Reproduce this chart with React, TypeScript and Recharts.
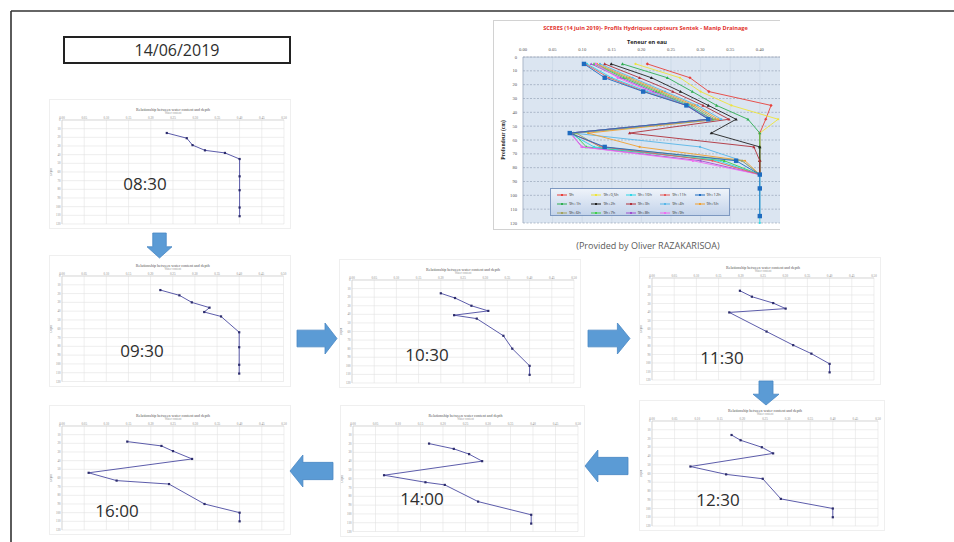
import React from "react";
import {
  ScatterChart,
  Scatter,
  XAxis,
  YAxis,
  CartesianGrid,
  Legend,
} from "recharts";

/* ---- small profiles (water content vs depth, one per hour) ---- */
const SMALL_WC_TICKS = [0, 0.05, 0.1, 0.15, 0.2, 0.25, 0.3, 0.35, 0.4, 0.45, 0.5];
const DEPTH_TICKS = [0, 10, 20, 30, 40, 50, 60, 70, 80, 90, 100, 110, 120];
const TIMES = ["08:30", "09:30", "10:30", "11:30", "12:30", "14:00", "16:00"];

const WC_0830 = [0.236, 0.281, 0.294, 0.322, 0.367, 0.4, 0.4, 0.4, 0.4, 0.4];
const DEPTH_0830 = [15, 21, 29, 35, 38, 45, 65, 81, 101, 111];
const WC_0930 = [0.222, 0.265, 0.293, 0.333, 0.321, 0.359, 0.4, 0.4, 0.4, 0.4];
const DEPTH_0930 = [16, 22, 30, 36, 41, 46, 64, 81, 101, 111];
const WC_1030 = [0.2, 0.232, 0.269, 0.307, 0.23, 0.281, 0.341, 0.361, 0.4, 0.4];
const DEPTH_1030 = [15.5, 21, 30, 36, 41, 45, 65, 80, 100, 110.5];
const WC_1130 = [0.198, 0.225, 0.273, 0.301, 0.174, 0.258, 0.318, 0.359, 0.4, 0.4];
const DEPTH_1130 = [15, 22, 29.5, 36, 40.5, 63, 79, 89, 101, 111];
const WC_1230 = [0.176, 0.196, 0.243, 0.268, 0.085, 0.164, 0.245, 0.285, 0.4, 0.4];
const DEPTH_1230 = [16, 22, 30, 37, 52, 61, 66, 89, 100, 110];
const WC_1400 = [0.169, 0.224, 0.258, 0.287, 0.069, 0.161, 0.204, 0.278, 0.396, 0.396];
const DEPTH_1400 = [20, 26, 32, 40, 56, 64, 67, 86, 101, 111];
const WC_1600 = [0.147, 0.224, 0.25, 0.293, 0.06, 0.123, 0.241, 0.321, 0.4, 0.4];
const DEPTH_1600 = [18, 23, 29, 38, 54, 63, 67, 90, 100, 110];

/* ---- big Sentek chart ---- */
const BIG_WC_TICKS = [0, 0.05, 0.1, 0.15, 0.2, 0.25, 0.3, 0.35, 0.4];
const PROBE_DEPTHS = [5, 15, 25, 35, 45, 55, 65, 75, 85];
const DEEP_DEPTHS = [5, 15, 25, 35, 45, 55, 65, 75, 85, 95, 115];
const CYAN_DEPTHS = [5, 15, 25, 35, 45, 55, 65, 75, 85, 95, 115, 120];
const LEGEND_LABELS = [
  "9h", "9h+0,5h", "9h+1h", "9h+2h", "9h+3h",
  "9h+4h", "9h+5h", "9h+6h", "9h+7h", "9h+8h",
  "9h+9h", "9h+10h", "9h+11h", "9h+12h",
];
const S_RED = [0.21, 0.282, 0.314, 0.419, 0.41, 0.4, 0.4, 0.4, 0.4];
const S_YELLOW = [0.19, 0.265, 0.3, 0.352, 0.431, 0.4, 0.4, 0.4, 0.4];
const S_GREEN = [0.168, 0.244, 0.286, 0.327, 0.38, 0.4, 0.4, 0.4, 0.4];
const S_BLACK = [0.149, 0.217, 0.266, 0.313, 0.36, 0.318, 0.4, 0.4, 0.4];
const S_DARKRED = [0.138, 0.197, 0.253, 0.304, 0.348, 0.18, 0.39, 0.4, 0.4];
const S_LIGHTBLUE = [0.13, 0.185, 0.24, 0.295, 0.335, 0.085, 0.299, 0.37, 0.4];
const S_ORANGE = [0.125, 0.18, 0.235, 0.29, 0.33, 0.11, 0.197, 0.375, 0.4];
const S_OLIVE = [0.122, 0.175, 0.23, 0.285, 0.325, 0.09, 0.13, 0.37, 0.4];
const S_LIME = [0.12, 0.17, 0.225, 0.28, 0.32, 0.085, 0.107, 0.34, 0.4];
const S_PURPLE = [0.115, 0.165, 0.22, 0.278, 0.318, 0.08, 0.1, 0.3, 0.4];
const S_PINK = [0.123, 0.16, 0.215, 0.275, 0.315, 0.08, 0.099, 0.287, 0.4];
const S_CYAN = [0.108, 0.15, 0.21, 0.28, 0.315, 0.078, 0.12, 0.33, 0.4, 0.4, 0.4, 0.4];
const S_SALMON = [0.105, 0.145, 0.205, 0.277, 0.314, 0.079, 0.135, 0.32, 0.4];
const S_BLUE = [0.103, 0.138, 0.203, 0.276, 0.313, 0.079, 0.138, 0.36, 0.4, 0.4, 0.4];

const BIG_SERIES = [
  { wc: S_RED, depth: PROBE_DEPTHS },
  { wc: S_YELLOW, depth: PROBE_DEPTHS },
  { wc: S_GREEN, depth: PROBE_DEPTHS },
  { wc: S_BLACK, depth: PROBE_DEPTHS },
  { wc: S_DARKRED, depth: PROBE_DEPTHS },
  { wc: S_LIGHTBLUE, depth: PROBE_DEPTHS },
  { wc: S_ORANGE, depth: PROBE_DEPTHS },
  { wc: S_OLIVE, depth: PROBE_DEPTHS },
  { wc: S_LIME, depth: PROBE_DEPTHS },
  { wc: S_PURPLE, depth: PROBE_DEPTHS },
  { wc: S_PINK, depth: PROBE_DEPTHS },
  { wc: S_CYAN, depth: CYAN_DEPTHS },
  { wc: S_SALMON, depth: PROBE_DEPTHS },
  { wc: S_BLUE, depth: DEEP_DEPTHS },
];

/* styling for each big-chart series */
const SERIES_STYLE = [
  { color: "#e8413b", shape: "diamond", r: 1.6 },
  { color: "#eee43a", shape: "circle", r: 1.1 },
  { color: "#2fae52", shape: "triangle", r: 1.6 },
  { color: "#222222", shape: "triangle", r: 1.6 },
  { color: "#b0303a", shape: "triangle", r: 1.6 },
  { color: "#58b6e8", shape: "circle", r: 1.1 },
  { color: "#f0a030", shape: "circle", r: 1.1 },
  { color: "#a4a35e", shape: "triangle", r: 1.4 },
  { color: "#3fd04a", shape: "triangle", r: 1.6 },
  { color: "#a050d0", shape: "triangle", r: 1.4 },
  { color: "#f06cf0", shape: "circle", r: 1.2 },
  { color: "#2fd6e6", shape: "circle", r: 1.1 },
  { color: "#e45a5a", shape: "circle", r: 1.1 },
  { color: "#1f6cc0", shape: "square", r: 2.2 },
];

const PANELS = [
  { time: TIMES[0], wc: WC_0830, depth: DEPTH_0830, box: [62, 120, 222, 104], at: [145, 183] },
  { time: TIMES[1], wc: WC_0930, depth: DEPTH_0930, box: [62, 276, 221.5, 105.5], at: [142, 350] },
  { time: TIMES[2], wc: WC_1030, depth: DEPTH_1030, box: [352, 280, 222, 103], at: [427, 354] },
  { time: TIMES[3], wc: WC_1130, depth: DEPTH_1130, box: [652, 278, 222, 102], at: [722, 357] },
  { time: TIMES[4], wc: WC_1230, depth: DEPTH_1230, box: [652, 421, 226, 105], at: [718, 499] },
  { time: TIMES[5], wc: WC_1400, depth: DEPTH_1400, box: [353, 426, 225, 105.5], at: [422, 498] },
  { time: TIMES[6], wc: WC_1600, depth: DEPTH_1600, box: [62, 426, 222, 104], at: [117, 510] },
];

const FONT = "'Open Sans', 'Liberation Sans', sans-serif";

function marker(kind: string, color: string, r: number) {
  return (p: any) => {
    const { cx, cy } = p;
    if (cx == null || cy == null) return <g />;
    if (kind === "square")
      return <rect x={cx - r} y={cy - r} width={2 * r} height={2 * r} fill={color} />;
    if (kind === "diamond")
      return <polygon points={`${cx},${cy - r} ${cx + r},${cy} ${cx},${cy + r} ${cx - r},${cy}`} fill={color} />;
    if (kind === "triangle")
      return <polygon points={`${cx},${cy - r} ${cx + r},${cy + r * 0.8} ${cx - r},${cy + r * 0.8}`} fill={color} />;
    return <circle cx={cx} cy={cy} r={r} fill={color} />;
  };
}

function Profile({ wc, depth, box, time, at }: any) {
  const [x, y, w, h] = box;
  const data = wc.map((v: number, i: number) => ({ wc: v, depth: depth[i] }));
  return (
    <>
      <div
        style={{
          position: "absolute",
          left: x - 12,
          top: y - 20,
          width: w + 18,
          height: h + 24,
          outline: "1px solid #efefef",
          background: "#fff",
        }}
      >
        <div
          style={{
            position: "absolute", left: 12, width: w, top: 8, textAlign: "center",
            fontSize: 4, lineHeight: "4px", color: "#555", fontFamily: "'Liberation Serif', serif",
          }}
        >
          Relationship between water content and depth
        </div>
        <div
          style={{
            position: "absolute", left: 12, width: w, top: 11.5, textAlign: "center",
            fontSize: 3, lineHeight: "3px", color: "#999", fontFamily: "'Liberation Serif', serif",
          }}
        >
          Water content
        </div>
        <ScatterChart width={w + 18} height={h + 24} margin={{ top: 12, right: 6, bottom: 4, left: 2 }}>
          <CartesianGrid stroke="#e2e2e2" strokeWidth={0.6} />
          <XAxis
            type="number"
            dataKey="wc"
            orientation="top"
            domain={[0, 0.5]}
            ticks={SMALL_WC_TICKS}
            interval={0}
            height={8}
            tickSize={0}
            tickMargin={1.5}
            tickFormatter={(v: number) => v.toFixed(2)}
            tick={{ fontSize: 3.2, fill: "#8a8a8a" }}
            axisLine={{ stroke: "#cfcfcf", strokeWidth: 0.6 }}
            tickLine={false}
          />
          <YAxis
            type="number"
            dataKey="depth"
            reversed
            domain={[0, 120]}
            ticks={DEPTH_TICKS}
            interval={0}
            width={10}
            tickSize={0}
            tickMargin={1.5}
            tick={{ fontSize: 3, fill: "#8a8a8a" }}
            axisLine={{ stroke: "#cfcfcf", strokeWidth: 0.6 }}
            tickLine={false}
            label={{ value: "Depth", angle: -90, position: "insideLeft", offset: -1, fontSize: 3, fill: "#888", style: { textAnchor: "middle" } }}
          />
          <Scatter
            data={data}
            fill="#2c2c6c"
            shape={marker("square", "#2c2c6c", 1.1)}
            line={{ stroke: "#4a4aa0", strokeWidth: 0.9 }}
            isAnimationActive={false}
          />
        </ScatterChart>
      </div>
      <div
        style={{
          position: "absolute", left: at[0], top: at[1], transform: "translate(-50%, -50%)",
          fontSize: 17, fontFamily: FONT, color: "#2e2e2e", whiteSpace: "nowrap",
        }}
      >
        {time}
      </div>
    </>
  );
}

function BigLegend(props: any) {
  const items = props.payload || [];
  return (
    <div
      style={{
        width: 180, height: 28, boxSizing: "border-box",
        border: "1px solid #7d98c0",
        background: "linear-gradient(180deg, #eef3fa 0%, #c3d3ea 100%)",
        display: "grid", gridTemplateColumns: "repeat(5, 1fr)", gridAutoRows: "9px",
        padding: "1px 0 0 6px",
      }}
    >
      {items.map((it: any, i: number) => (
        <div key={i} style={{ display: "flex", alignItems: "center", gap: 2 }}>
          <svg width={10} height={4}>
            <line x1={0} y1={2} x2={10} y2={2} stroke={it.color} strokeWidth={1} />
            <rect x={4} y={1} width={2} height={2} fill={it.color} />
          </svg>
          <span style={{ fontSize: 4, color: "#333", fontFamily: FONT, whiteSpace: "nowrap" }}>{it.value}</span>
        </div>
      ))}
    </div>
  );
}

function BigChart() {
  return (
    <div
      style={{
        position: "absolute", left: 493, top: 20, width: 287, height: 210, overflow: "hidden",
        background: "#fff", boxShadow: "inset 1px 1px 0 #d2d2d2, inset 0 -1px 0 #d2d2d2",
      }}
    >
      <div
        style={{
          position: "absolute", left: 0, width: 305, top: 5, textAlign: "center", fontSize: 5.6,
          lineHeight: "6px", fontWeight: 700, color: "#e2332d", fontFamily: FONT, whiteSpace: "nowrap",
        }}
      >
        SCERES (14 juin 2019)- Profils Hydriques capteurs Sentek - Manip Drainage
      </div>
      <div
        style={{
          position: "absolute", left: 0, width: 308, top: 19, textAlign: "center", fontSize: 5.6,
          lineHeight: "6px", fontWeight: 700, color: "#222", fontFamily: FONT,
        }}
      >
        Teneur en eau
      </div>
      <ScatterChart width={305} height={210} margin={{ top: 27, right: 8.6, bottom: 7, left: 12 }}>
        <CartesianGrid fill="#dbe5f1" stroke="#c8d3e2" strokeWidth={0.6} horizontal={false} />
        <CartesianGrid stroke="#8d9bb0" strokeWidth={0.6} strokeDasharray="2 1.5" vertical={false} />
        <XAxis
          type="number"
          dataKey="wc"
          orientation="top"
          domain={[0, 0.45]}
          ticks={BIG_WC_TICKS}
          interval={0}
          height={10}
          tickSize={4}
          tickFormatter={(v: number) => v.toFixed(2)}
          tick={{ fontSize: 4.6, fill: "#555" }}
          axisLine={{ stroke: "#9aa6b8", strokeWidth: 0.6 }}
          tickLine={false}
          allowDataOverflow
        />
        <YAxis
          type="number"
          dataKey="depth"
          reversed
          domain={[0, 120]}
          ticks={DEPTH_TICKS}
          interval={0}
          width={18}
          tickSize={4}
          tick={{ fontSize: 4.6, fill: "#555" }}
          axisLine={{ stroke: "#9aa6b8", strokeWidth: 0.6 }}
          tickLine={false}
          label={{ value: "Profondeur (cm)", angle: -90, position: "insideLeft", offset: -2, fontSize: 5.6, fontWeight: 700, fill: "#222", style: { textAnchor: "middle" } }}
        />
        {BIG_SERIES.map((s, i) => (
          <Scatter
            key={i}
            name={LEGEND_LABELS[i]}
            data={s.wc.map((v, k) => ({ wc: v, depth: s.depth[k] }))}
            fill={SERIES_STYLE[i].color}
            shape={marker(SERIES_STYLE[i].shape, SERIES_STYLE[i].color, SERIES_STYLE[i].r)}
            line={{ stroke: SERIES_STYLE[i].color, strokeWidth: 0.9 }}
            legendType="line"
            isAnimationActive={false}
          />
        ))}
        <Legend
          layout="horizontal"
          verticalAlign="middle"
          align="center"
          wrapperStyle={{ left: 57, top: 168, width: 180, height: 28 }}
          content={BigLegend}
        />
      </ScatterChart>
    </div>
  );
}

function arrowRight(x0: number, y0: number, x1: number, y1: number) {
  const yc = (y0 + y1) / 2, sh = (y1 - y0) * 0.27, xh = x1 - (x1 - x0) * 0.3;
  return `${x0},${yc - sh} ${xh},${yc - sh} ${xh},${y0} ${x1},${yc} ${xh},${y1} ${xh},${yc + sh} ${x0},${yc + sh}`;
}
function arrowLeft(x0: number, y0: number, x1: number, y1: number) {
  const yc = (y0 + y1) / 2, sh = (y1 - y0) * 0.27, xh = x0 + (x1 - x0) * 0.3;
  return `${x1},${yc - sh} ${xh},${yc - sh} ${xh},${y0} ${x0},${yc} ${xh},${y1} ${xh},${yc + sh} ${x1},${yc + sh}`;
}
function arrowDown(x0: number, y0: number, x1: number, y1: number) {
  const xc = (x0 + x1) / 2, sw = (x1 - x0) * 0.27, yh = y1 - (y1 - y0) * 0.45;
  return `${xc - sw},${y0} ${xc + sw},${y0} ${xc + sw},${yh} ${x1},${yh} ${xc},${y1} ${x0},${yh} ${xc - sw},${yh}`;
}

export default function App() {
  return (
    <div style={{ position: "absolute", left: 0, top: 0, width: 954, height: 542, background: "#fff", overflow: "hidden" }}>
      <div
        style={{
          position: "absolute", left: 63, top: 36, width: 228, height: 28, boxSizing: "border-box",
          border: "2px solid #222", display: "flex", alignItems: "center", justifyContent: "center",
          fontSize: 16, fontFamily: FONT, color: "#2e2e2e",
        }}
      >
        14/06/2019
      </div>

      <BigChart />
      <div
        style={{
          position: "absolute", left: 648, top: 245, transform: "translate(-50%, -50%)",
          fontSize: 9, fontFamily: FONT, color: "#5a5a5a", whiteSpace: "nowrap",
        }}
      >
        (Provided by Oliver RAZAKARISOA)
      </div>

      {PANELS.map((p, i) => (
        <Profile key={i} {...p} />
      ))}

      <svg width={954} height={542} style={{ position: "absolute", left: 0, top: 0, pointerEvents: "none" }}>
        <line x1={11} y1={11} x2={954} y2={11} stroke="#333" strokeWidth={1.6} />
        <line x1={11} y1={11} x2={11} y2={542} stroke="#333" strokeWidth={1.6} />
        <g fill="#5b9bd5" stroke="#4a88c4" strokeWidth={0.8}>
          <polygon points={arrowDown(147, 233, 172, 258)} />
          <polygon points={arrowRight(297, 323, 337, 354)} />
          <polygon points={arrowRight(588, 323, 630, 354)} />
          <polygon points={arrowDown(753, 381, 779, 405)} />
          <polygon points={arrowLeft(585, 450, 628, 482)} />
          <polygon points={arrowLeft(290, 455, 333, 487)} />
        </g>
      </svg>
    </div>
  );
}
